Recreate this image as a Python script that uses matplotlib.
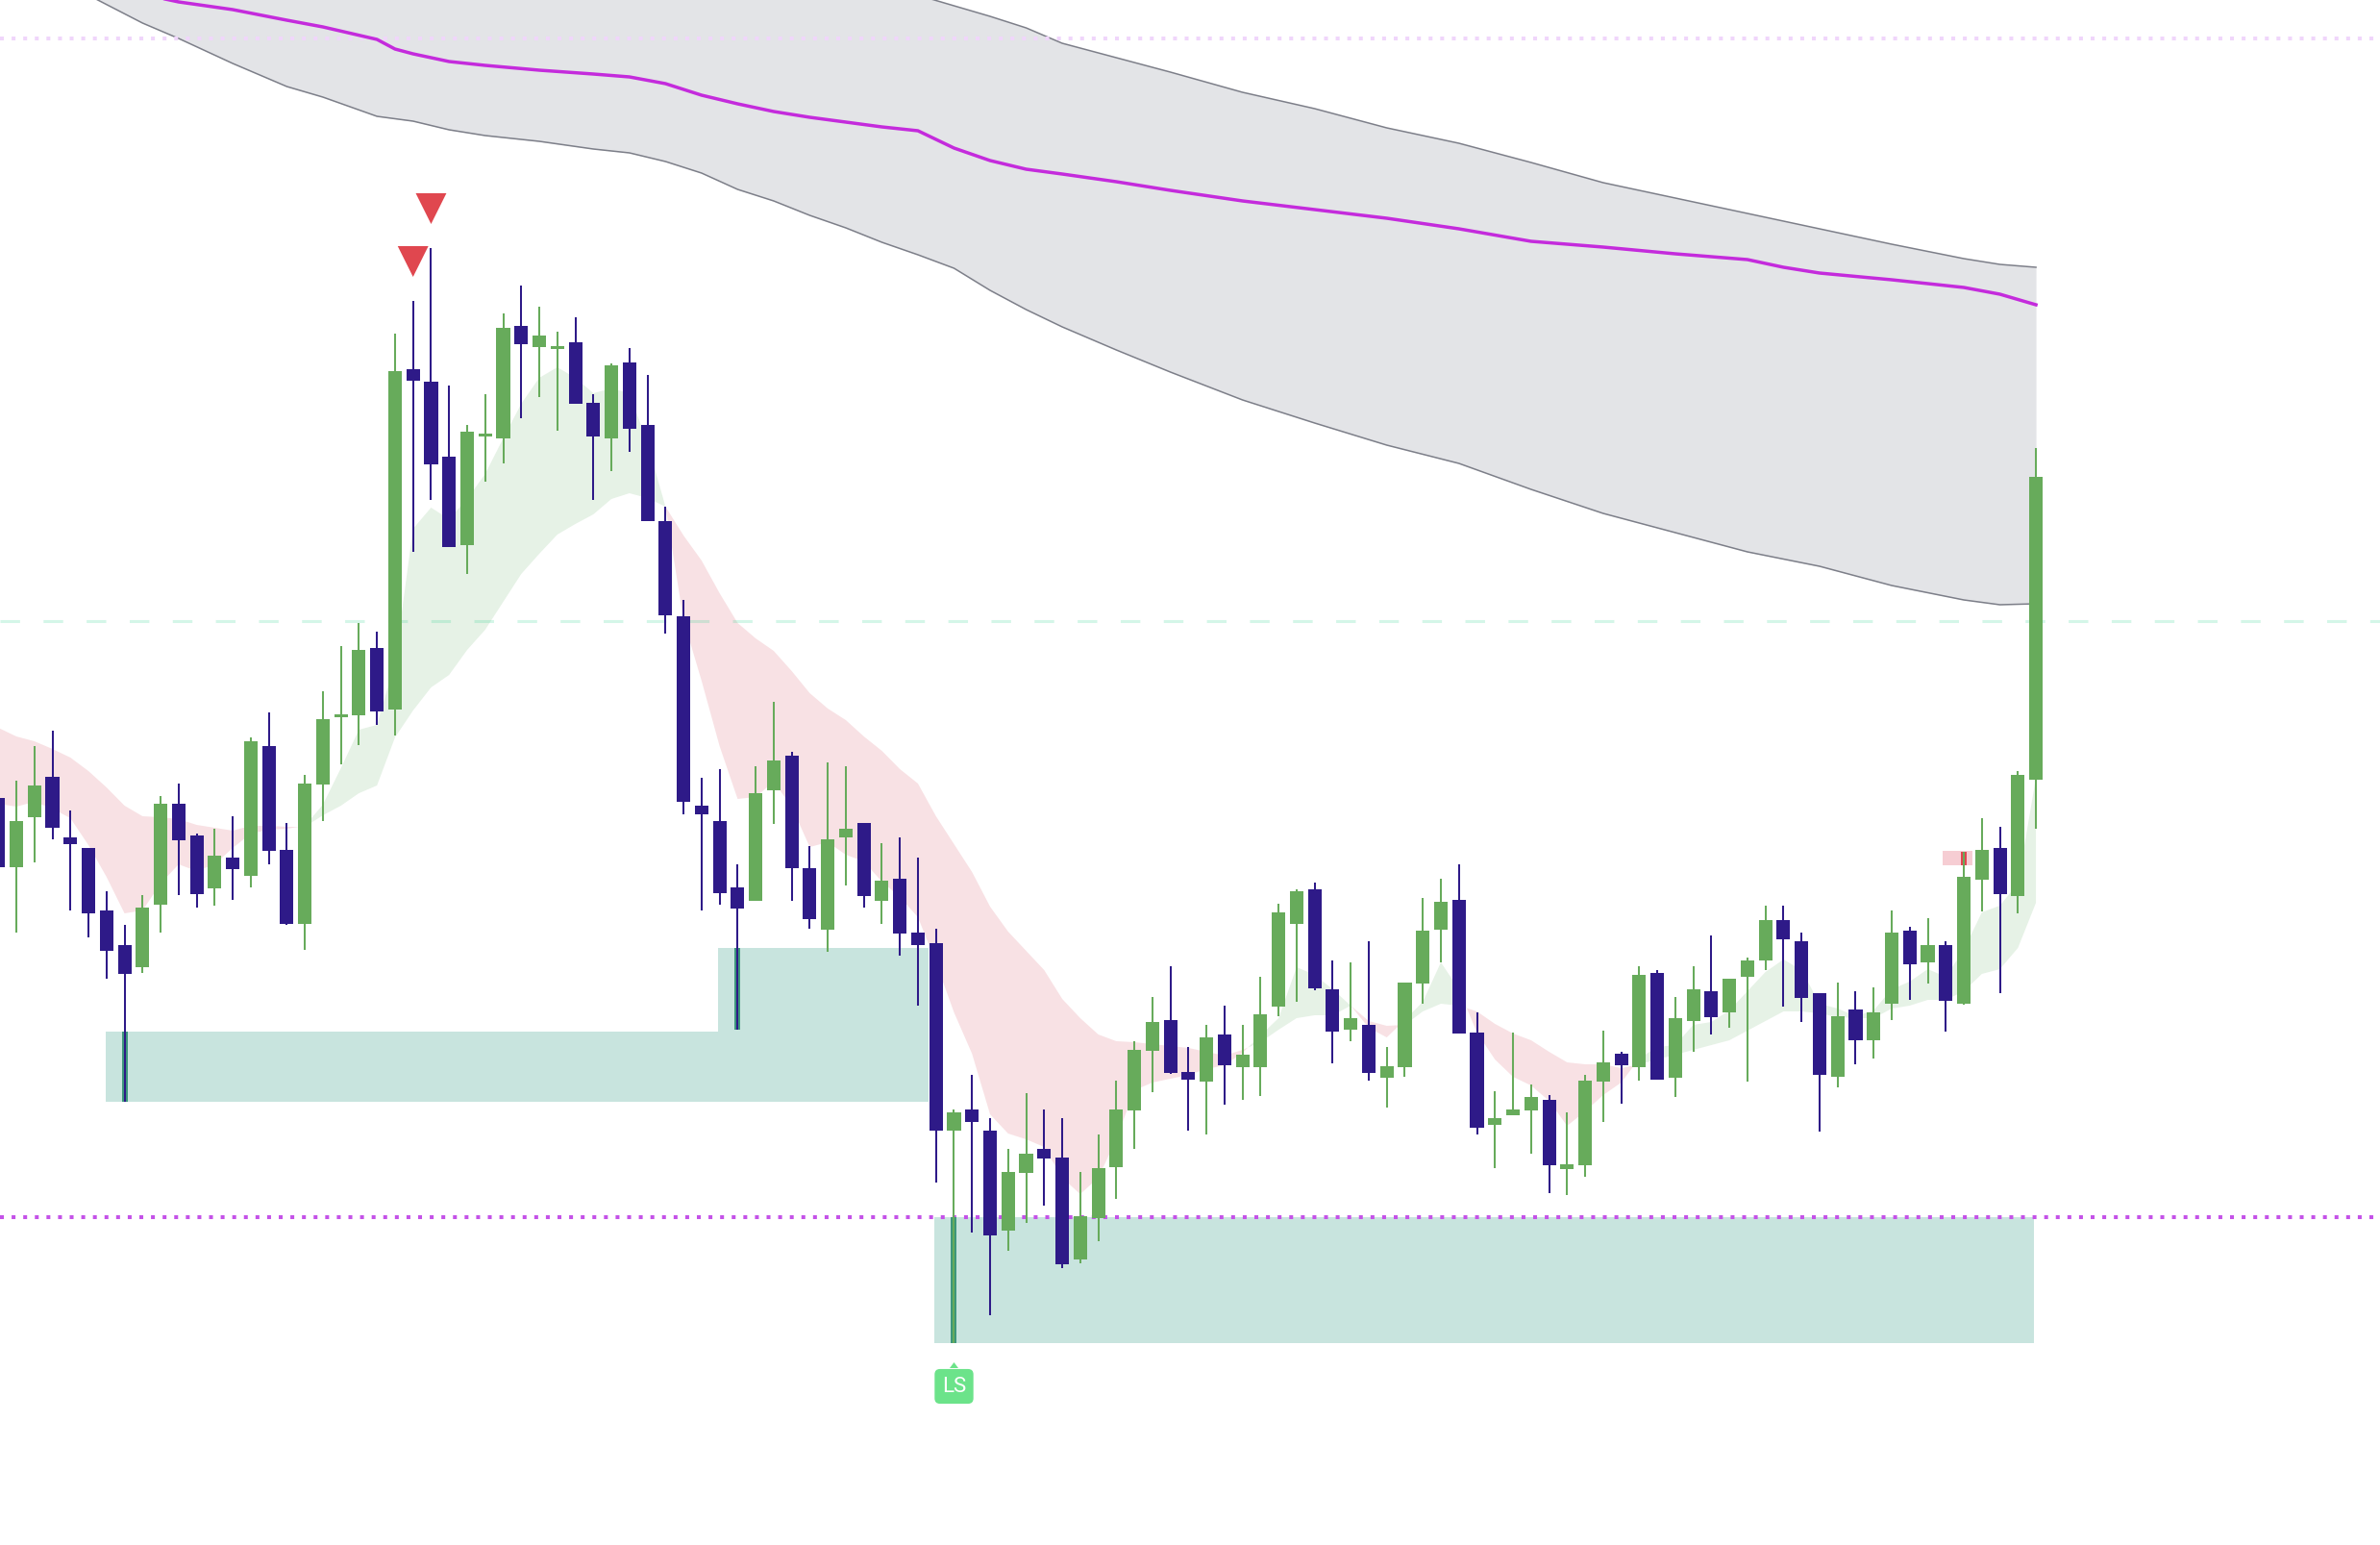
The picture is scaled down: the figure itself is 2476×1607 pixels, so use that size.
import matplotlib

matplotlib.use("Agg")
import matplotlib.pyplot as plt
import numpy as np

opens = [831, 903, 851, 809, 872, 883, 948, 984, 1007, 942,
         837, 870, 925, 893, 912, 777, 885, 962, 817, 746,
         745, 675, 739, 385, 398, 476, 568, 454, 457, 340,
         362, 363, 357, 420, 457, 378, 443, 543, 642, 839,
         855, 924, 938, 823, 787, 904, 968, 872, 857, 938,
         915, 971, 982, 1177, 1155, 1177, 1281, 1221, 1196, 1205,
         1311, 1268, 1215, 1156, 1094, 1062, 1116, 1126, 1077, 1111,
         1111, 1048, 962, 926, 1030, 1072, 1067, 1122, 1111, 1024,
         968, 937, 1075, 1171, 1161, 1156, 1145, 1217, 1213, 1126,
         1097, 1111, 1013, 1122, 1063, 1032, 1054, 1017, 1000, 958,
         980, 1034, 1121, 1051, 1083, 1045, 969, 1002, 984, 1045,
         916, 883, 933, 812]

highs = [815, 813, 777, 761, 844, 883, 928, 963, 932, 829,
         816, 868, 863, 850, 768, 742, 857, 807, 720, 673,
         649, 658, 348, 314, 259, 402, 443, 411, 327, 298,
         320, 346, 331, 411, 379, 363, 391, 528, 625, 810,
         801, 900, 798, 731, 783, 881, 794, 798, 857, 878,
         872, 893, 967, 1155, 1119, 1164, 1196, 1138, 1155, 1164,
         1220, 1181, 1125, 1084, 1038, 1006, 1090, 1067, 1047, 1067,
         1017, 941, 926, 919, 1000, 1002, 980, 1090, 1023, 935,
         915, 900, 1054, 1136, 1075, 1129, 1140, 1158, 1119, 1073,
         1095, 1006, 1010, 1038, 1006, 974, 1019, 997, 943, 943,
         971, 1034, 1023, 1032, 1028, 948, 965, 956, 980, 887,
         852, 861, 803, 467]

lows = [920, 971, 898, 874, 948, 976, 1019, 1147, 1013, 971,
        932, 945, 943, 937, 924, 900, 963, 989, 855, 796,
        776, 755, 766, 575, 521, 570, 598, 502, 483, 436,
        414, 449, 421, 521, 491, 471, 543, 660, 848, 948,
        942, 1072, 938, 858, 938, 967, 991, 922, 945, 962,
        995, 1047, 1231, 1398, 1283, 1369, 1302, 1273, 1255, 1320,
        1315, 1292, 1248, 1196, 1137, 1118, 1177, 1181, 1150, 1145,
        1141, 1058, 1043, 1031, 1107, 1084, 1125, 1153, 1121, 1045,
        1002, 1076, 1181, 1216, 1161, 1201, 1242, 1244, 1225, 1168,
        1149, 1125, 1124, 1142, 1095, 1077, 1070, 1126, 1010, 1048,
        1064, 1178, 1132, 1108, 1102, 1062, 1041, 1024, 1074, 1046,
        949, 1034, 951, 863]

closes = [903, 855, 818, 862, 879, 951, 990, 1014, 945, 837,
          875, 931, 891, 905, 772, 886, 962, 816, 749, 744,
          677, 741, 387, 397, 484, 570, 450, 452, 342, 359,
          350, 361, 421, 455, 381, 447, 543, 641, 835, 848,
          930, 946, 826, 792, 904, 957, 874, 863, 933, 917,
          972, 984, 1177, 1158, 1168, 1286, 1220, 1201, 1206, 1316,
          1266, 1216, 1155, 1093, 1064, 1117, 1124, 1080, 1109, 1098,
          1056, 950, 928, 1029, 1074, 1060, 1117, 1110, 1023, 969,
          939, 1076, 1174, 1164, 1155, 1142, 1213, 1212, 1125, 1106,
          1109, 1015, 1124, 1060, 1030, 1059, 1019, 1000, 958, 978,
          1039, 1119, 1058, 1083, 1054, 971, 1004, 984, 1042, 913,
          885, 931, 807, 497]

ema_fast = [837, 840, 835, 842, 852, 880, 913, 951, 948, 920,
            900, 907, 900, 883, 868, 864, 863, 860, 838, 800,
            760, 755, 690, 551, 529, 541, 520, 494, 457, 421,
            394, 383, 394, 410, 405, 410, 462, 528, 646, 709,
            777, 832, 830, 814, 840, 882, 877, 890, 897, 918,
            934, 955, 1002, 1054, 1097, 1160, 1180, 1186, 1194, 1226,
            1243, 1226, 1186, 1135, 1127, 1123, 1119, 1113, 1109, 1096,
            1078, 1060, 1007, 1015, 1030, 1047, 1070, 1080, 1062, 1043,
            1002, 1030, 1075, 1103, 1121, 1130, 1146, 1172, 1157, 1140,
            1127, 1102, 1090, 1088, 1067, 1064, 1052, 1032, 1012, 999,
            1010, 1045, 1050, 1058, 1052, 1030, 1022, 1009, 1017, 989,
            950, 943, 920, 810]

ema_slow = [758, 767, 772, 780, 789, 803, 820, 839, 850, 851,
            853, 859, 862, 865, 860, 860, 861, 861, 849, 839,
            826, 818, 768, 740, 716, 703, 677, 656, 627, 598,
            577, 557, 546, 536, 520, 514, 519, 528, 558, 584,
            618, 649, 665, 678, 699, 722, 738, 750, 767, 782,
            801, 816, 850, 879, 908, 944, 970, 990, 1010, 1040,
            1060, 1077, 1084, 1085, 1087, 1089, 1091, 1095, 1099, 1093,
            1085, 1072, 1060, 1057, 1057, 1047, 1063, 1068, 1067, 1053,
            1045, 1047, 1053, 1066, 1076, 1083, 1095, 1106, 1108, 1108,
            1112, 1108, 1103, 1098, 1093, 1088, 1083, 1073, 1063, 1053,
            1053, 1055, 1059, 1060, 1060, 1050, 1047, 1041, 1041, 1032,
            1014, 1009, 987, 940]

band_idx = [0, 3, 5, 8, 10, 13, 16, 18, 21, 23, 25, 27, 30, 33, 35, 37, 39, 41, 43, 45, 47,
            49, 51, 53, 55, 57, 59, 62, 65, 69, 73, 77, 81, 85, 89, 93, 97, 101, 105, 109, 111, 113]
band_upper = [-310, -292, -280, -262, -250, -232, -214, -202, -184, -172, -160, -148, -130, -112,
              -100, -88, -76, -64, -52, -40, -28, -16, -4, 7, 18, 30, 46, 61, 76, 97, 114, 134,
              150, 170, 191, 207, 223, 239, 255, 270, 276, 279]
band_lower = [-55, -23, -4, 25, 41, 67, 91, 102, 122, 127, 136, 142, 148, 156, 160, 169, 181, 198,
              210, 225, 238, 253, 266, 280, 303, 323, 341, 365, 388, 417, 441, 464, 483, 510, 535,
              555, 575, 590, 610, 625, 630, 629]

basis_idx = [0, 3, 5, 8, 10, 13, 16, 18, 21, 22, 23, 25, 27, 30, 33, 35, 37, 39, 41, 43, 45, 47,
             49, 51, 52, 53, 55, 57, 59, 62, 65, 69, 73, 77, 81, 85, 89, 93, 97, 99, 101, 105, 109,
             111, 113]
basis = [-60, -35, -20, -5, 3, 11, 22, 29, 42, 52, 57, 65, 69, 74, 78, 81, 88, 100, 109, 117, 123,
         128, 133, 137, 146, 155, 168, 177, 182, 190, 199, 210, 219, 228, 239, 252, 258, 265, 271,
         279, 285, 292, 300, 307, 318]

level_top = 41
level_mid = 647
level_low = 1267

zone_left = [5.95, 39.9, 51.9]
zone_right = [51.6, 51.6, 112.9]
zone_top = [1074, 987, 1267]
zone_bottom = [1147, 1147, 1398]

sweep_idx = [7, 41, 53]
sweep_top = [1074, 987, 1267]
sweep_bottom = [1147, 1072, 1398]

supply_left = 107.85
supply_right = 109.48
supply_top = 886
supply_bottom = 901
supply_sweep_idx = 109

signal_idx = [23, 24]
label_idx = 53

GREEN = "#67ab5b"
NAVY = "#2e1a88"

idx = np.arange(len(opens))
o = np.array(opens)
c = np.array(closes)
bull = c <= o
colors = [GREEN if b else NAVY for b in bull]

fig = plt.figure(figsize=(24.76, 16.08), dpi=100)
ax = fig.add_axes([0, 0, 1, 1])
ax.set_xlim(0.094, 132.08)
ax.set_ylim(1608, 0)
ax.set_axis_off()

# envelope
ax.fill_between(band_idx, band_upper, band_lower, color="#e3e4e7", lw=0, zorder=1)
ax.plot(band_idx, band_upper, color="#7d7f89", lw=1.1, zorder=2)
ax.plot(band_idx, band_lower, color="#7d7f89", lw=1.1, zorder=2)
ax.plot(basis_idx, basis, color="#c42bdc", lw=2.5, zorder=4.5, solid_joinstyle="round")

# ema ribbon
fast = np.array(ema_fast)
slow = np.array(ema_slow)
ax.fill_between(idx, fast, slow, where=fast >= slow, interpolate=True,
                color="#f8e1e4", lw=0, zorder=1)
ax.fill_between(idx, fast, slow, where=fast <= slow, interpolate=True,
                color="#e6f2e6", lw=0, zorder=1)

# demand zones
for left, right, top, bottom in zip(zone_left, zone_right, zone_top, zone_bottom):
    ax.fill_between([left, right], top, bottom, color="#c8e4de", lw=0, zorder=1.5)

ax.fill_between([supply_left, supply_right], supply_top, supply_bottom,
                color="#f6cdd3", lw=0, zorder=1.5)

# horizontal levels
ax.axhline(level_top, color="#f0d6fb", lw=2.9, ls=(0, (1, 2)), zorder=4)
ax.axhline(level_mid, color="#28d28c", alpha=0.2, lw=2.2, ls=(0, (6.67, 8)), zorder=4)
ax.axhline(level_low, color="#c452e8", lw=2.9, ls=(0, (1, 2)), zorder=4)

# swept wicks
ax.bar(sweep_idx, np.array(sweep_bottom) - np.array(sweep_top), bottom=sweep_top,
       width=0.32, color="#3e977c", lw=0, zorder=5)
ax.bar([supply_sweep_idx], [supply_bottom - supply_top - 1], bottom=[supply_top + 1],
       width=0.32, color="#e0474f", lw=0, zorder=5)

# candles
ax.vlines(idx, highs, lows, colors=colors, lw=1.45, zorder=6)
body_top = np.minimum(o, c)
body_h = np.maximum(np.abs(c - o), 3)
ax.bar(idx, body_h, bottom=body_top, width=0.75, color=colors, lw=0, zorder=7)

# sell signals
for i in signal_idx:
    tip = highs[i] - 25
    ax.fill([i - 0.85, i + 0.85, i], [tip - 32, tip - 32, tip],
            color="#e0474f", lw=0, zorder=8)

# liquidity sweep label
label_y = zone_bottom[2] + 45
ax.fill([label_idx - 0.24, label_idx, label_idx + 0.24],
        [label_y - 19, label_y - 25, label_y - 19], color="#6ce38a", lw=0, zorder=9)
ax.text(label_idx, label_y, "LS", ha="center", va="center", color="white",
        fontsize=16, family=["Roboto", "DejaVu Sans"], zorder=10,
        bbox=dict(boxstyle="round,pad=0.34,rounding_size=0.25", fc="#6ce38a", ec="none"))

fig.savefig("out.png", dpi=100)
